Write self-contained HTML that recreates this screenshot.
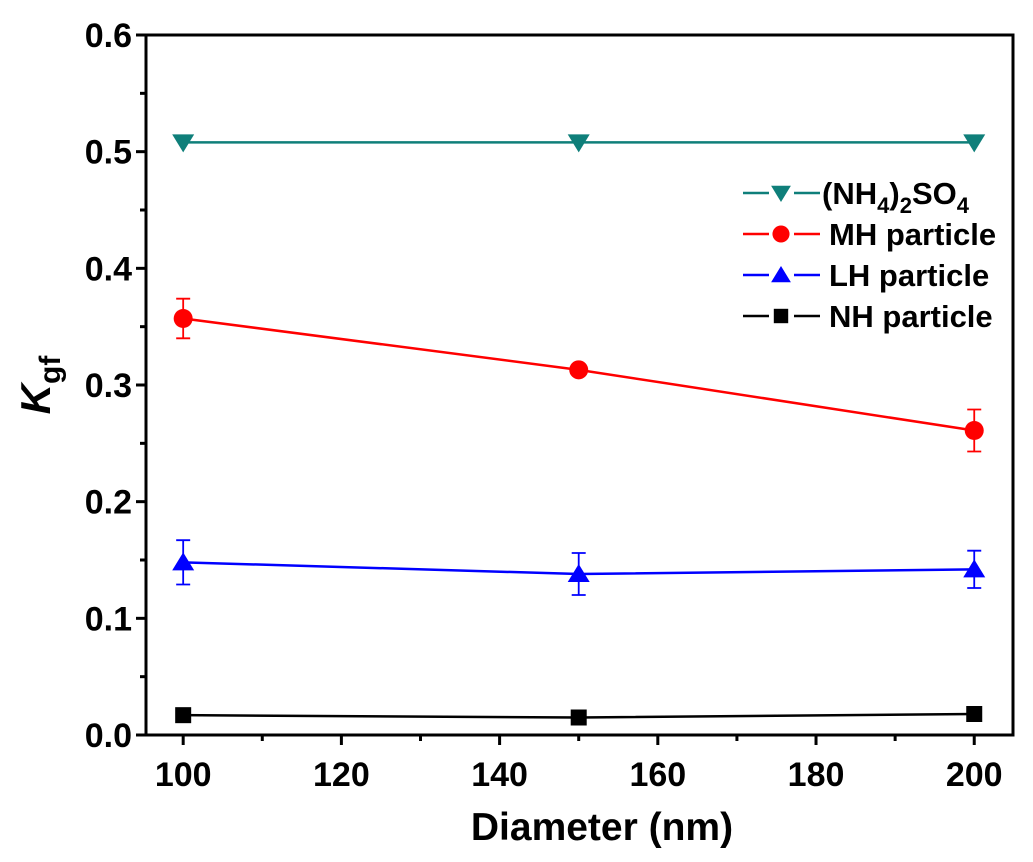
<!DOCTYPE html>
<html><head><meta charset="utf-8"><style>
body{margin:0;background:#fff;}
svg{display:block;font-family:"Liberation Sans",Arial,sans-serif;font-weight:bold;}
</style></head><body>
<svg id="chart" width="1033" height="862" viewBox="0 0 1033 862" xmlns="http://www.w3.org/2000/svg">
<rect x="146" y="35" width="867" height="700" fill="none" stroke="#000" stroke-width="3"/>
<g id="axes"></g>
<g id="series"></g>
<text x="602" y="840" font-size="39" text-anchor="middle">Diameter (nm)</text>
<text transform="translate(50,385) rotate(-90)" font-size="42" text-anchor="middle"><tspan font-style="italic">K</tspan><tspan font-size="30" dy="10">gf</tspan></text>
<g id="legend"></g>
</svg>
<script>
const categories=[100,150,200];
const xTicks=[100,120,140,160,180,200];
const yTicks=[0.0,0.1,0.2,0.3,0.4,0.5,0.6];
const yTickLabels=["0.0","0.1","0.2","0.3","0.4","0.5","0.6"];
const amsValues=[0.508,0.508,0.508];
const mhValues=[0.357,0.313,0.261];
const mhErrors=[0.017,0,0.018];
const lhValues=[0.148,0.138,0.142];
const lhErrors=[0.019,0.018,0.016];
const nhValues=[0.017,0.015,0.018];
const nhErrors=[0,0,0];
const amsErrors=[0,0,0];

const L=146,R=1013,T=35,B=735,xmin=95.3,xmax=204.9,ymin=0,ymax=0.6;
const xs=v=>L+(v-xmin)/(xmax-xmin)*(R-L);
const ys=v=>B-(v-ymin)/(ymax-ymin)*(B-T);
const NS="http://www.w3.org/2000/svg";
function mk(tag,attrs,parent){const e=document.createElementNS(NS,tag);for(const k in attrs)e.setAttribute(k,attrs[k]);parent.appendChild(e);return e;}
const axes=document.getElementById('axes');
xTicks.forEach((t,i)=>{
  const l=mk('line',{x1:xs(t),x2:xs(t),y1:B,y2:B+10,stroke:'#000','stroke-width':3},axes);
  
  
  if(i<xTicks.length-1){const m=(t+xTicks[i+1])/2;
    const ml=mk('line',{x1:xs(m),x2:xs(m),y1:B,y2:B+6,stroke:'#000','stroke-width':3},axes);
    
    }
  const tx=mk('text',{x:xs(t),y:B+51,'font-size':34,'text-anchor':'middle'},axes);
  tx.textContent=t;
  
  
});
yTicks.forEach((t,i)=>{
  const l=mk('line',{x1:L-10,x2:L,y1:ys(t),y2:ys(t),stroke:'#000','stroke-width':3},axes);
  
  
  if(i<yTicks.length-1){const m=(t+yTicks[i+1])/2;
    const ml=mk('line',{x1:L-6,x2:L,y1:ys(m),y2:ys(m),stroke:'#000','stroke-width':3},axes);
    
    }
  const tx=mk('text',{x:L-14,y:ys(t)+12,'font-size':34,'text-anchor':'end'},axes);
  tx.textContent=yTickLabels[i];
  
  
});
function marker(shape,x,y,c,parent,s){
  let e;
  if(shape==='circle')e=mk('circle',{cx:x,cy:y,r:s*0.95,fill:c},parent);
  else if(shape==='square')e=mk('rect',{x:x-s*0.8,y:y-s*0.8,width:s*1.6,height:s*1.6,fill:c},parent);
  else if(shape==='up')e=mk('polygon',{points:`${x},${y-s} ${x-s*1.1},${y+s*0.8} ${x+s*1.1},${y+s*0.8}`,fill:c},parent);
  else e=mk('polygon',{points:`${x},${y+s} ${x-s*1.1},${y-s*0.8} ${x+s*1.1},${y-s*0.8}`,fill:c},parent);
  return e;
}
const series=[
  {name:'ams',vals:amsValues,err:amsErrors,c:'#0f7f7a',shape:'down'},
  {name:'mh',vals:mhValues,err:mhErrors,c:'#ff0000',shape:'circle'},
  {name:'lh',vals:lhValues,err:lhErrors,c:'#0000ff',shape:'up'},
  {name:'nh',vals:nhValues,err:nhErrors,c:'#000000',shape:'square'}
];
const sg=document.getElementById('series');
series.forEach(s=>{
  const g=mk('g',{},sg);
  
  
  const pl=mk('polyline',{points:categories.map((c,i)=>xs(c)+','+ys(s.vals[i])).join(' '),fill:'none',stroke:s.c,'stroke-width':2.5},g);
  
  
  categories.forEach((c,i)=>{
    const x=xs(c),e=s.err[i];
    if(e>0){
      const eb=mk('path',{d:`M${x},${ys(s.vals[i]+e)}V${ys(s.vals[i]-e)}M${x-7},${ys(s.vals[i]+e)}H${x+7}M${x-7},${ys(s.vals[i]-e)}H${x+7}`,stroke:s.c,'stroke-width':1.8,fill:'none'},g);
      
      
    }
    const m=marker(s.shape,x,ys(s.vals[i]),s.c,g,10);
    
    
  });
});
const lg=document.getElementById('legend');
const labels=['(NH<tspan font-size="22" dy="9">4</tspan><tspan dy="-9">)</tspan><tspan font-size="22" dy="9">2</tspan><tspan dy="-9">SO</tspan><tspan font-size="22" dy="9">4</tspan>','MH particle','LH particle','NH particle'];
series.forEach((s,i)=>{
  const y=193+i*41;
  const g=mk('g',{},lg);
  
  
  mk('line',{x1:743,x2:769,y1:y,y2:y,stroke:s.c,'stroke-width':2.5},g);
  mk('line',{x1:794,x2:820,y1:y,y2:y,stroke:s.c,'stroke-width':2.5},g);
  marker(s.shape,781,y,s.c,g,9);
  const t=mk('text',{x:i===0?822:829,y:y+11,'font-size':31},g);
  t.innerHTML=labels[i];
});
</script>
</body></html>
